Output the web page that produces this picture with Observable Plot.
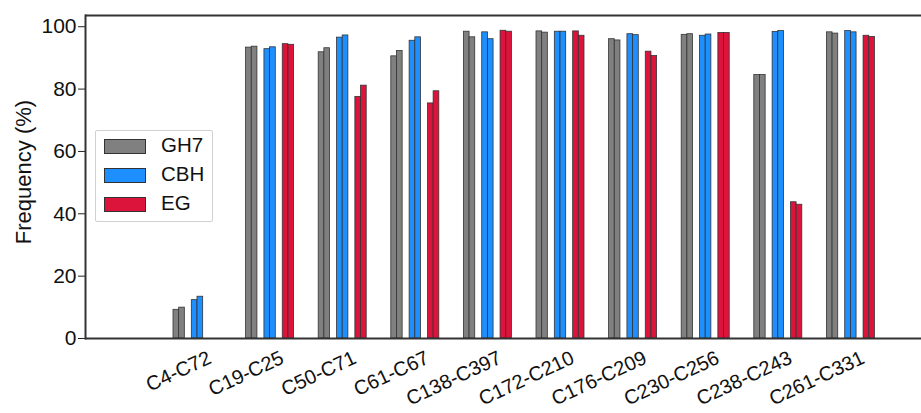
<!DOCTYPE html>
<html>
<head>
<meta charset="utf-8">
<script src="https://cdn.jsdelivr.net/npm/d3@7"></script>
<script src="https://cdn.jsdelivr.net/npm/@observablehq/plot@0.6"></script>
<style>
  body { margin: 0; background: #fff; }
  #wrap { position: relative; width: 921px; height: 413px; font-family: "Liberation Sans", Arial, sans-serif; }
  #legend { position: absolute; left: 95px; top: 130px; width: 116px; height: 90px; border: 1px solid #d0d0d0; border-radius: 2px; background: #fff; }
  .item { position: absolute; left: 8px; height: 14px; }
  .sw { position: absolute; left: 0; top: 0; width: 40px; height: 13px; border: 1px solid #333; }
  .lb { position: absolute; left: 57px; top: -5px; font-size: 20.5px; line-height: 22px; color: #111; }
</style>
</head>
<body>
<div id="wrap"></div>
<script>
const categories = ["C4-C72","C19-C25","C50-C71","C61-C67","C138-C397","C172-C210","C176-C209","C230-C256","C238-C243","C261-C331"];
const seriesNames = ["GH7","CBH","EG"];
const seriesColors = ["#808080","#1e8fff","#dc143c"];
const gh7A = [9.2, 93.3, 91.8, 90.5, 98.4, 98.5, 96.0, 97.4, 84.5, 98.2];
const gh7B = [9.9, 93.6, 93.1, 92.2, 96.6, 98.1, 95.6, 97.6, 84.5, 97.8];
const cbhA = [12.3, 92.8, 96.5, 95.5, 98.2, 98.4, 97.6, 97.1, 98.3, 98.6];
const cbhB = [13.4, 93.4, 97.2, 96.6, 96.0, 98.4, 97.3, 97.5, 98.6, 98.2];
const egA  = [0, 94.4, 77.5, 75.4, 98.7, 98.5, 92.0, 98.0, 43.7, 97.1];
const egB  = [0, 94.2, 81.1, 79.3, 98.4, 97.1, 90.6, 98.0, 42.9, 96.7];
const yTicks = [0, 20, 40, 60, 80, 100];
const yMax = 103.6;
const yLabel = "Frequency (%)";

const groups = [
  {values: gh7A, s: 0, slot: [0, 5.67]},
  {values: gh7B, s: 0, slot: [5.67, 11.33]},
  {values: cbhA, s: 1, slot: [18.33, 24]},
  {values: cbhB, s: 1, slot: [24, 29.67]},
  {values: egA,  s: 2, slot: [36.67, 42.33]},
  {values: egB,  s: 2, slot: [42.33, 48]}
];
const bw = 48;

const barMarks = groups.map(g => Plot.barY(
  categories.map((c, i) => ({category: c, value: g.values[i]})),
  {
    x: "category", y: "value",
    fill: seriesColors[g.s], stroke: "#333", strokeWidth: 0.8,
    insetLeft: g.slot[0], insetRight: bw - g.slot[1]
  }
));

const chart = Plot.plot({
  width: 921,
  height: 413,
  marginLeft: 85,
  marginRight: 0,
  marginTop: 15,
  marginBottom: 75,
  style: {fontSize: "20px", fontFamily: "Liberation Sans, Arial, sans-serif", color: "#222", background: "#fff"},
  x: {domain: categories, range: [160.7, 886.7], paddingInner: 0.3388, paddingOuter: 0.1694, round: false, axis: null},
  y: {domain: [0, yMax], ticks: yTicks, tickSize: 7, tickPadding: 2, tickFormat: () => "", label: null, line: false},
  marks: [
    ...barMarks,
    Plot.frame({anchor: "left", stroke: "#333", strokeWidth: 2}),
    Plot.ruleY([0], {stroke: "#333", strokeWidth: 2}),
    Plot.ruleY([yMax], {stroke: "#333", strokeWidth: 2}),
    Plot.text(yTicks, {y: d => d, text: d => String(d), frameAnchor: "left", dx: -9, textAnchor: "end", fontSize: 21, fill: "#111"}),
    Plot.text(categories, {x: d => d, frameAnchor: "bottom", dy: 24, dx: 15, rotate: -25, textAnchor: "end", fontSize: 20, fill: "#111"}),
    Plot.text([yLabel], {frameAnchor: "left", dx: -62, dy: -5, rotate: -90, textAnchor: "middle", fontSize: 22, fill: "#111"})
  ]
});

const wrap = document.getElementById("wrap");
wrap.appendChild(chart);

const legend = document.createElement("div");
legend.id = "legend";
seriesNames.forEach((name, i) => {
  const item = document.createElement("div");
  item.className = "item";
  item.style.top = (8 + i * 29) + "px";
  const sw = document.createElement("div");
  sw.className = "sw";
  sw.style.background = seriesColors[i];
  const lb = document.createElement("div");
  lb.className = "lb";
  lb.textContent = name;
  item.appendChild(sw);
  item.appendChild(lb);
  legend.appendChild(item);
});
wrap.appendChild(legend);
</script>
</body>
</html>
